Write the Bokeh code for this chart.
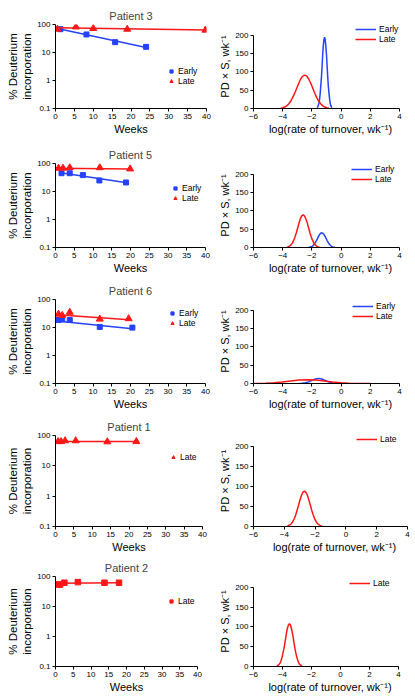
from bokeh.plotting import figure
from bokeh.layouts import column, row
from bokeh.models import Range1d, FixedTicker, CustomJSTickFormatter, Legend, LegendItem
from bokeh.embed import file_html
from bokeh.resources import INLINE

BLUE = "#2442ff"
RED = "#ff1717"
FONT = "Liberation Sans"

# ---------------- data ----------------
patients = ["Patient 3", "Patient 5", "Patient 6", "Patient 1", "Patient 2"]

# Patient 3
p3_early_wk = [1.3, 8.2, 15.8, 24.0]
p3_early_pct = [68, 44, 23.4, 15.9]
p3_early_fit_wk = [0.5, 24.0]
p3_early_fit_pct = [72, 15]
p3_late_wk = [0.5, 5.4, 10.0, 19.0, 39.7]
p3_late_pct = [68, 82, 72, 68, 63]
p3_late_fit_wk = [0.3, 40]
p3_late_fit_pct = [76, 63]
p3_late_rate = [-4.14, -4.00, -3.87, -3.73, -3.59, -3.45, -3.32, -3.18, -3.04, -2.90, -2.77, -2.63, -2.49,
                -2.35, -2.22, -2.08, -1.94, -1.80, -1.67, -1.53, -1.39, -1.25, -1.12, -0.98, -0.84]
p3_late_pds = [1.0, 2.1, 4.0, 7.2, 12.3, 19.7, 29.5, 41.7, 55.2, 68.7, 80.3, 88.2, 91.0,
               88.2, 80.3, 68.7, 55.2, 41.7, 29.5, 19.7, 12.3, 7.2, 4.0, 2.1, 1.0]
p3_early_rate = [-1.64, -1.60, -1.56, -1.51, -1.47, -1.43, -1.39, -1.34, -1.30, -1.26, -1.22, -1.17, -1.13,
                 -1.09, -1.05, -1.00, -0.96, -0.92, -0.88, -0.83, -0.79, -0.75, -0.71, -0.66, -0.62]
p3_early_pds = [2.2, 4.4, 8.5, 15.4, 26.2, 42.0, 63.0, 88.8, 117.7, 146.4, 171.2, 188.0, 194.0,
                188.0, 171.2, 146.4, 117.7, 88.8, 63.0, 42.0, 26.2, 15.4, 8.5, 4.4, 2.2]

# Patient 5
p5_early_wk = [1.6, 3.8, 7.3, 11.7, 18.8]
p5_early_pct = [45, 45, 38.5, 24.8, 21]
p5_early_fit_wk = [1.3, 19.5]
p5_early_fit_pct = [47, 20]
p5_late_wk = [0.8, 2.0, 3.8, 11.8, 19.9]
p5_late_pct = [68, 68, 71, 71, 64]
p5_late_fit_wk = [0.3, 19.9]
p5_late_fit_pct = [68, 64]
p5_late_rate = [-3.71, -3.62, -3.53, -3.43, -3.34, -3.25, -3.16, -3.06, -2.97, -2.88, -2.79, -2.69, -2.60,
                -2.51, -2.42, -2.32, -2.23, -2.14, -2.05, -1.95, -1.86, -1.77, -1.68, -1.58, -1.49]
p5_late_pds = [1.0, 2.0, 3.9, 7.1, 12.0, 19.3, 28.9, 40.7, 54.0, 67.2, 78.5, 86.2, 89.0,
               86.2, 78.5, 67.2, 54.0, 40.7, 28.9, 19.3, 12.0, 7.1, 3.9, 2.0, 1.0]
p5_early_rate = [-2.22, -2.15, -2.07, -2.00, -1.92, -1.85, -1.77, -1.70, -1.62, -1.55, -1.47, -1.40, -1.32,
                 -1.25, -1.17, -1.10, -1.02, -0.95, -0.87, -0.80, -0.72, -0.65, -0.57, -0.50, -0.42]
p5_early_pds = [0.4, 0.9, 1.8, 3.2, 5.4, 8.7, 13.0, 18.3, 24.3, 30.2, 35.3, 38.8, 40.0,
                38.8, 35.3, 30.2, 24.3, 18.3, 13.0, 8.7, 5.4, 3.2, 1.8, 0.9, 0.4]

# Patient 6
p6_early_wk = [0.8, 1.8, 3.8, 11.8, 20.5]
p6_early_pct = [18.5, 19.5, 18.5, 10.5, 9.9]
p6_early_fit_wk = [0.3, 20.5]
p6_early_fit_pct = [17.1, 9.0]
p6_late_wk = [0.8, 1.8, 3.8, 11.8, 19.5]
p6_late_pct = [30, 27, 35, 20, 20.6]
p6_late_fit_wk = [0.3, 19.7]
p6_late_fit_pct = [28.7, 19]
p6_late_rate = [-6.0, -5.75, -5.18, -4.60, -4.03, -3.45, -2.88, -2.30, -1.73, -1.15, -0.58, 0.0, 0.58, 1.15, 2.0]
p6_late_pds = [0, 0.1, 0.6, 1.8, 4.0, 7.0, 9.6, 10.5, 9.6, 7.0, 4.0, 2.0, 1.0, 0.3, 0]
p6_early_rate = [-2.89, -2.67, -2.44, -2.22, -1.99, -1.77, -1.54, -1.32, -1.09, -0.87, -0.64, -0.42, -0.19]
p6_early_pds = [0.2, 0.6, 1.9, 4.5, 8.5, 12.4, 14.0, 12.4, 8.5, 4.5, 1.9, 0.6, 0.2]

# Patient 1
p1_late_wk = [0.7, 1.5, 2.6, 5.5, 14.1, 22.0]
p1_late_pct = [63, 63, 67, 67, 62, 63]
p1_late_fit_wk = [0.5, 22.0]
p1_late_fit_pct = [64, 64]
p1_late_rate = [-3.83, -3.74, -3.64, -3.55, -3.45, -3.36, -3.26, -3.17, -3.07, -2.98, -2.88, -2.79, -2.69,
                -2.60, -2.50, -2.41, -2.31, -2.22, -2.12, -2.03, -1.93, -1.84, -1.74, -1.65, -1.55]
p1_late_pds = [1.0, 2.0, 3.9, 7.0, 11.9, 19.0, 28.6, 40.3, 53.4, 66.4, 77.7, 85.3, 88.0,
               85.3, 77.7, 66.4, 53.4, 40.3, 28.6, 19.0, 11.9, 7.0, 3.9, 2.0, 1.0]

# Patient 2
p2_late_wk = [0.7, 1.3, 2.5, 6.3, 13.8, 17.9]
p2_late_pct = [54, 54, 62, 65, 62, 62]
p2_late_fit_wk = [0.5, 18.0]
p2_late_fit_pct = [60, 62]
p2_late_rate = [-4.39, -4.32, -4.25, -4.17, -4.10, -4.03, -3.96, -3.88, -3.81, -3.74, -3.67, -3.59, -3.52,
                -3.45, -3.38, -3.30, -3.23, -3.16, -3.09, -3.01, -2.94, -2.87, -2.80, -2.72, -2.65]
p2_late_pds = [1.2, 2.5, 4.7, 8.6, 14.6, 23.4, 35.1, 49.4, 65.5, 81.5, 95.3, 104.7, 108.0,
               104.7, 95.3, 81.5, 65.5, 49.4, 35.1, 23.4, 14.6, 8.6, 4.7, 2.5, 1.2]

week_ticks = [0, 5, 10, 15, 20, 25, 30, 35, 40]
pct_ticks = [0.1, 1, 10, 100]
rate_ticks = [-6, -4, -2, 0, 2, 4]
pds_ticks = [0, 50, 100, 150, 200]

# ---------------- layout constants (page has no margin) ----------------
rows_h = [143, 136, 136, 141, 143]          # figure heights (sum 699)
left_bt = [24, 20, 20, 20, 20]              # frame top offset (left figs)
left_bb = [35, 32, 32, 30, 33]              # bottom border (left figs)
left_br = [10, 11, 11, 14, 19]              # right border of left figs
LEFT_W = 216
LEFT_BL = 55
right_dw = [146, 146, 146, 154, 145]        # data width of right frames
right_dt = [25, 21, 22, 19, 23]             # offset of "200" line from fig top
right_bb = [34, 32, 32, 30, 32]             # bottom border (right figs)
RIGHT_BL = 37
PAD_T = 12                                  # extra frame above 200 line
PAD_R = 8                                   # extra frame right of 4
left_leg = [(112, 47), (116, 25), (113, 14), (114, 22), (112, 25)]
right_leg = [(102, 5), (98, 5), (99, 5), (103, 5), (96, 5)]
ITEM_H = 10


def style_axes(p):
    p.outline_line_color = None
    p.xgrid.visible = False
    p.ygrid.visible = False
    p.background_fill_color = "white"
    p.border_fill_color = "white"
    for ax in (p.xaxis[0], p.yaxis[0]):
        ax.axis_line_color = "black"
        ax.axis_line_width = 1
        ax.major_tick_line_color = "black"
        ax.major_tick_out = 3
        ax.major_tick_in = 0
        ax.minor_tick_line_color = None
        ax.major_label_standoff = 2
        ax.axis_label_standoff = 1
        ax.major_label_text_font = FONT
        ax.major_label_text_font_size = "8px"
        ax.major_label_text_color = "black"
        ax.axis_label_text_font = FONT
        ax.axis_label_text_font_style = "normal"
        ax.axis_label_text_color = "black"


def make_legend(p, items, gx, top, fh, glyph_w, standoff):
    n = len(items)
    lh = n * ITEM_H
    leg = Legend(items=items, location=(gx, fh - top - lh))
    leg.background_fill_alpha = 0
    leg.border_line_alpha = 0
    leg.padding = 0
    leg.margin = 0
    leg.spacing = 0
    leg.glyph_width = glyph_w
    leg.glyph_height = ITEM_H
    leg.label_height = ITEM_H
    leg.label_standoff = standoff
    leg.label_text_font = FONT
    leg.label_text_font_size = "8.5px"
    leg.label_text_color = "black"
    p.add_layout(leg)


def left_fig(i, early, late, late_marker):
    h = rows_h[i]
    bt = left_bt[i]
    bb = left_bb[i]
    br = left_br[i]
    p = figure(width=LEFT_W, height=h, y_axis_type="log",
               x_range=Range1d(0, 40), y_range=Range1d(0.1, 100),
               output_backend="svg", toolbar_location=None,
               min_border_left=LEFT_BL, min_border_right=br,
               min_border_top=bt, min_border_bottom=bb,
               title=patients[i])
    p.title.align = "center"
    p.title.text_font = FONT
    p.title.text_font_size = "11px"
    p.title.text_font_style = "normal"
    p.title.standoff = 5
    style_axes(p)
    p.xaxis.ticker = FixedTicker(ticks=week_ticks)
    p.yaxis.ticker = FixedTicker(ticks=pct_ticks)
    p.yaxis.formatter = CustomJSTickFormatter(code="return String(tick)")
    p.xaxis.axis_label = "Weeks"
    p.xaxis.axis_label_text_font_size = "11px"
    p.yaxis.axis_label = "% Deuterium\nincorporation"
    p.yaxis.axis_label_text_font_size = "11.5px"
    items = []
    if early is not None:
        wk, pct, fwk, fpct = early
        p.line(fwk, fpct, line_color=BLUE, line_width=1.5)
        r = p.scatter(wk, pct, marker="square", size=5, fill_color=BLUE, line_color=BLUE)
        items.append(LegendItem(label="Early", renderers=[r]))
    wk, pct, fwk, fpct = late
    p.line(fwk, fpct, line_color=RED, line_width=1.5)
    size = 7 if late_marker == "triangle" else 5.5
    r = p.scatter(wk, pct, marker=late_marker, size=size, fill_color=RED, line_color=RED)
    items.append(LegendItem(label="Late", renderers=[r]))
    fh = h - bt - bb
    gx, d = left_leg[i]
    make_legend(p, items, gx, d - ITEM_H / 2, fh, 8, 3)
    return p


def right_fig(i, early, late):
    h = rows_h[i]
    bt = right_dt[i] - PAD_T
    bb = right_bb[i]
    dw = right_dw[i]
    dh = h - right_dt[i] - bb
    y_end = 200.0 * (dh + PAD_T) / dh
    x_end = 4.0 + 10.0 * PAD_R / dw
    p = figure(width=RIGHT_BL + dw + PAD_R, height=h,
               x_range=Range1d(-6, x_end), y_range=Range1d(0, y_end),
               output_backend="svg", toolbar_location=None,
               min_border_left=RIGHT_BL, min_border_right=0,
               min_border_top=bt, min_border_bottom=bb)
    p.title = None
    style_axes(p)
    p.xaxis.bounds = (-6, 4)
    p.yaxis.bounds = (0, 200)
    p.xaxis.ticker = FixedTicker(ticks=rate_ticks)
    p.yaxis.ticker = FixedTicker(ticks=pds_ticks)
    p.xaxis.formatter = CustomJSTickFormatter(
        code="return tick < 0 ? '\u2212' + Math.abs(tick) : String(tick)")
    p.xaxis.axis_label = "log(rate of turnover, wk\u207b\u00b9)"
    p.xaxis.axis_label_text_font_size = "11px"
    p.yaxis.axis_label = "PD \u00d7 S, wk\u207b\u00b9"
    p.yaxis.axis_label_text_font_size = "11px"
    items = []
    if early is not None:
        r = p.line(early[0], early[1], line_color=BLUE, line_width=1.5)
        items.append(LegendItem(label="Early", renderers=[r]))
    r = p.line(late[0], late[1], line_color=RED, line_width=1.5)
    items.append(LegendItem(label="Late", renderers=[r]))
    fh = dh + PAD_T
    gx, d = right_leg[i]
    make_legend(p, items, gx, PAD_T + d - ITEM_H / 2, fh, 21, 3)
    return p


rows = []
rows.append(row(
    left_fig(0, (p3_early_wk, p3_early_pct, p3_early_fit_wk, p3_early_fit_pct),
             (p3_late_wk, p3_late_pct, p3_late_fit_wk, p3_late_fit_pct), "triangle"),
    right_fig(0, (p3_early_rate, p3_early_pds), (p3_late_rate, p3_late_pds))))
rows.append(row(
    left_fig(1, (p5_early_wk, p5_early_pct, p5_early_fit_wk, p5_early_fit_pct),
             (p5_late_wk, p5_late_pct, p5_late_fit_wk, p5_late_fit_pct), "triangle"),
    right_fig(1, (p5_early_rate, p5_early_pds), (p5_late_rate, p5_late_pds))))
rows.append(row(
    left_fig(2, (p6_early_wk, p6_early_pct, p6_early_fit_wk, p6_early_fit_pct),
             (p6_late_wk, p6_late_pct, p6_late_fit_wk, p6_late_fit_pct), "triangle"),
    right_fig(2, (p6_early_rate, p6_early_pds), (p6_late_rate, p6_late_pds))))
rows.append(row(
    left_fig(3, None, (p1_late_wk, p1_late_pct, p1_late_fit_wk, p1_late_fit_pct), "triangle"),
    right_fig(3, None, (p1_late_rate, p1_late_pds))))
rows.append(row(
    left_fig(4, None, (p2_late_wk, p2_late_pct, p2_late_fit_wk, p2_late_fit_pct), "square"),
    right_fig(4, None, (p2_late_rate, p2_late_pds))))

for r_ in rows:
    r_.spacing = 0
layout = column(*rows, spacing=0)

open("out.html", "w").write(file_html(layout, INLINE))
